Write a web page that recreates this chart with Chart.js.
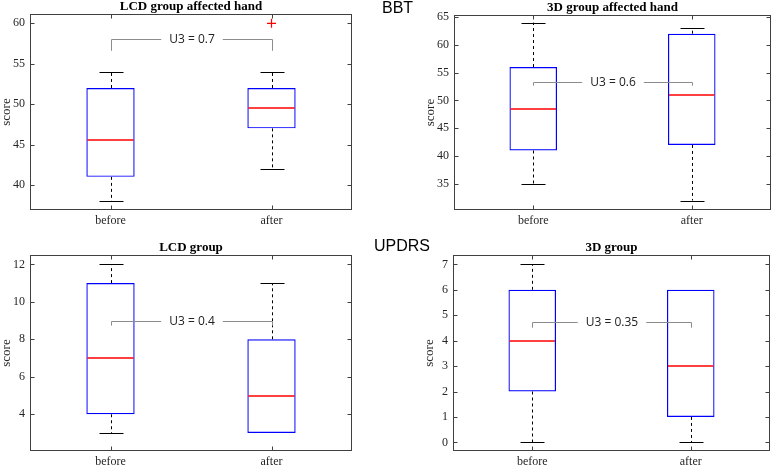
<!DOCTYPE html>
<html>
<head>
<meta charset="utf-8">
<script src="https://cdn.jsdelivr.net/npm/chart.js@4.4.1/dist/chart.umd.min.js"></script>
<style>
  body { margin: 0; background: #fff; }
  #wrap { position: relative; width: 778px; height: 468px; overflow: hidden; }
  canvas { position: absolute; }
  .group { position: absolute; font: 16px "Liberation Sans", Arial, sans-serif; line-height: 16px; color: #000; }
</style>
</head>
<body>
<div id="wrap">
  <canvas id="lcdHand" width="389" height="230" style="left:0;top:0"></canvas>
  <canvas id="d3Hand" width="389" height="230" style="left:389px;top:0"></canvas>
  <canvas id="lcdUpdrs" width="389" height="238" style="left:0;top:230px"></canvas>
  <canvas id="d3Updrs" width="389" height="238" style="left:389px;top:230px"></canvas>
  <div class="group" style="left:382px;top:0px">BBT</div>
  <div class="group" style="left:374px;top:238px">UPDRS</div>
</div>
<script>
const categories = ['before', 'after'];

// five-number summaries per category: [min, q1, median, q3, max]
const lcdHandBoxes = [[38, 41, 45.5, 52, 54], [42, 47, 49.5, 52, 54]];
const lcdHandOutliers = [null, 60];
const d3HandBoxes = [[35, 41, 48.5, 56, 64], [32, 42, 51, 62, 63]];
const d3HandOutliers = [null, null];
const lcdUpdrsBoxes = [[3, 4, 7, 11, 12], [3, 3, 5, 8, 11]];
const lcdUpdrsOutliers = [null, null];
const d3UpdrsBoxes = [[0, 2, 4, 6, 7], [0, 1, 3, 6, 6]];
const d3UpdrsOutliers = [null, null];

const u3Labels = ['U3 = 0.7', 'U3 = 0.6', 'U3 = 0.4', 'U3 = 0.35'];

const lcdHandTicks = [40, 45, 50, 55, 60];
const d3HandTicks = [35, 40, 45, 50, 55, 60, 65];
const lcdUpdrsTicks = [4, 6, 8, 10, 12];
const d3UpdrsTicks = [0, 1, 2, 3, 4, 5, 6, 7];

const SERIF = '"Liberation Serif", "Times New Roman", serif';
const AXIS_COLOR = '#404040';

// Whiskers, medians, U3 bracket and MATLAB-style frame
const makeBoxPlugin = (boxes, u3) => ({
    id: 'boxplot',
    beforeDatasetsDraw(chart) {
        const { ctx } = chart;
        const y = chart.scales.y;
        const meta = chart.getDatasetMeta(0);
        ctx.save();
        ctx.strokeStyle = '#000';
        ctx.lineWidth = 1;
        boxes.forEach((b, i) => {
            const x = Math.round(meta.data[i].x) + 0.5;
            ctx.setLineDash([3, 3]);
            ctx.beginPath();
            ctx.moveTo(x, y.getPixelForValue(b[3]));
            ctx.lineTo(x, y.getPixelForValue(b[4]));
            ctx.moveTo(x, y.getPixelForValue(b[1]));
            ctx.lineTo(x, y.getPixelForValue(b[0]));
            ctx.stroke();
            ctx.setLineDash([]);
            // caps, only where the whisker has some length
            ctx.beginPath();
            [[b[0], b[1]], [b[4], b[3]]].forEach(([v, edge]) => {
                if (v === edge) return;
                const py = Math.round(y.getPixelForValue(v)) + 0.5;
                ctx.moveTo(x - 12, py);
                ctx.lineTo(x + 12, py);
            });
            ctx.stroke();
        });
        ctx.restore();
    },
    afterDatasetsDraw(chart) {
        const { ctx } = chart;
        const y = chart.scales.y;
        const meta = chart.getDatasetMeta(0);
        ctx.save();
        // medians
        ctx.strokeStyle = '#ff0000';
        ctx.lineWidth = 1.5;
        boxes.forEach((b, i) => {
            const bar = meta.data[i];
            const py = Math.round(y.getPixelForValue(b[2]));
            ctx.beginPath();
            ctx.moveTo(bar.x - bar.width / 2 + 1, py);
            ctx.lineTo(bar.x + bar.width / 2 - 1, py);
            ctx.stroke();
        });
        // U3 bracket
        ctx.lineWidth = 1;
        const x0 = Math.round(meta.data[0].x) + 0.5;
        const x1 = Math.round(meta.data[1].x) + 0.5;
        const yl = Math.round(y.getPixelForValue(u3.level)) + 0.5;
        const yd = y.getPixelForValue(u3.level - u3.drop);
        ctx.font = '12px "Open Sans", sans-serif';
        const gap = ctx.measureText(u3.text).width / 2 + 8;
        const mid = (x0 + x1) / 2;
        ctx.strokeStyle = '#8c8c8c';
        ctx.beginPath();
        ctx.moveTo(x0, yd);
        ctx.lineTo(x0, yl);
        ctx.lineTo(mid - gap, yl);
        ctx.moveTo(mid + gap, yl);
        ctx.lineTo(x1, yl);
        ctx.lineTo(x1, yd);
        ctx.stroke();
        ctx.fillStyle = '#222';
        ctx.textAlign = 'center';
        ctx.textBaseline = 'middle';
        ctx.fillText(u3.text, mid, yl);
        ctx.restore();
    },
    afterDraw(chart) {
        const { ctx, chartArea: a } = chart;
        const l = Math.round(a.left) + 0.5, r = Math.round(a.right) - 0.5;
        const t = Math.round(a.top) + 0.5, bt = Math.round(a.bottom) - 0.5;
        ctx.save();
        ctx.strokeStyle = AXIS_COLOR;
        ctx.lineWidth = 1;
        ctx.strokeRect(l, t, r - l, bt - t);
        ctx.beginPath();
        chart.scales.y.ticks.forEach(tk => {
            const py = Math.round(chart.scales.y.getPixelForValue(tk.value)) + 0.5;
            ctx.moveTo(l, py); ctx.lineTo(l + 4, py);
            ctx.moveTo(r, py); ctx.lineTo(r - 4, py);
        });
        chart.getDatasetMeta(0).data.forEach(bar => {
            const px = Math.round(bar.x) + 0.5;
            ctx.moveTo(px, bt); ctx.lineTo(px, bt - 4);
            ctx.moveTo(px, t); ctx.lineTo(px, t + 4);
        });
        ctx.stroke();
        ctx.restore();
    }
});

const createBoxChart = (id, cfg) => {
    const ctx = document.getElementById(id).getContext('2d');
    return new Chart(ctx, {
        type: 'bar',
        data: {
            labels: categories,
            datasets: [
                {
                    data: cfg.boxes.map(b => [b[1], b[3]]),
                    backgroundColor: 'rgba(0,0,0,0)',
                    borderColor: '#0000ff',
                    borderWidth: 1.2,
                    borderSkipped: false,
                    barPercentage: 0.3,
                    categoryPercentage: 1,
                    order: 2
                },
                {
                    type: 'line',
                    data: cfg.outliers,
                    showLine: false,
                    pointStyle: 'cross',
                    pointRadius: 4.5,
                    pointBorderColor: '#ff0000',
                    pointBorderWidth: 1.2,
                    order: 1
                }
            ]
        },
        options: {
            responsive: false,
            animation: false,
            devicePixelRatio: 1,
            layout: { padding: cfg.padding },
            plugins: {
                legend: { display: false },
                tooltip: { enabled: false },
                title: {
                    display: true,
                    text: cfg.title,
                    fullSize: false,
                    color: '#000',
                    font: { family: SERIF, size: 13, weight: 'bold', lineHeight: '14px' },
                    padding: 0
                }
            },
            scales: {
                x: {
                    grid: { display: false, drawTicks: false },
                    border: { display: false },
                    ticks: { color: '#262626', font: { family: SERIF, size: 12 }, padding: 4 },
                    afterFit: s => { s.height = cfg.xHeight; }
                },
                y: {
                    min: cfg.min,
                    max: cfg.max,
                    grid: { display: false, drawTicks: false },
                    border: { display: false },
                    ticks: { color: '#262626', font: { family: SERIF, size: 12 }, padding: 5 },
                    afterBuildTicks: s => { s.ticks = cfg.ticks.map(v => ({ value: v })); },
                    afterFit: s => { s.width = 30; },
                    title: {
                        display: true,
                        text: 'score',
                        color: '#262626',
                        font: { family: SERIF, size: 13, lineHeight: 1 },
                        padding: 0
                    }
                }
            }
        },
        plugins: [makeBoxPlugin(cfg.boxes, cfg.u3)]
    });
};

createBoxChart('lcdHand', {
    title: 'LCD group affected hand',
    boxes: lcdHandBoxes, outliers: lcdHandOutliers, ticks: lcdHandTicks,
    min: 36.9, max: 61.15,
    padding: { left: 0, right: 37, top: 0, bottom: 0 }, xHeight: 20,
    u3: { text: u3Labels[0], level: 58, drop: 1.4 }
});
createBoxChart('d3Hand', {
    title: '3D group affected hand',
    boxes: d3HandBoxes, outliers: d3HandOutliers, ticks: d3HandTicks,
    min: 30.3, max: 65.36,
    padding: { left: 35, right: 7, top: 1, bottom: 0 }, xHeight: 20,
    u3: { text: u3Labels[1], level: 53.35, drop: 0.7 }
});
createBoxChart('lcdUpdrs', {
    title: 'LCD group',
    boxes: lcdUpdrsBoxes, outliers: lcdUpdrsOutliers, ticks: lcdUpdrsTicks,
    min: 2.04, max: 12.5,
    padding: { left: 0, right: 37, top: 11, bottom: 0 }, xHeight: 17,
    u3: { text: u3Labels[2], level: 9.0, drop: 0.27 }
});
createBoxChart('d3Updrs', {
    title: '3D group',
    boxes: d3UpdrsBoxes, outliers: d3UpdrsOutliers, ticks: d3UpdrsTicks,
    min: -0.34, max: 7.37,
    padding: { left: 34, right: 8, top: 11, bottom: 0 }, xHeight: 17,
    u3: { text: u3Labels[3], level: 4.73, drop: 0.22 }
});
</script>
</body>
</html>
